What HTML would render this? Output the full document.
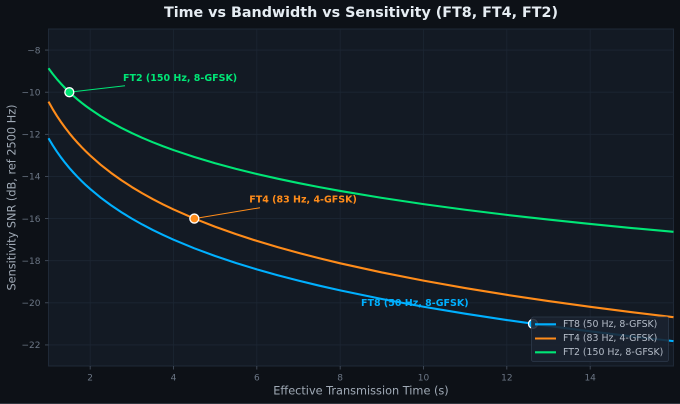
<!DOCTYPE html>
<html>
<head>
<meta charset="utf-8">
<style>
html,body{margin:0;padding:0;background:#0d1117;}
svg{display:block;}
text{font-family:"DejaVu Sans","Liberation Sans",sans-serif;}
</style>
</head>
<body>
<svg width="680" height="404" viewBox="0 0 680 404" xmlns="http://www.w3.org/2000/svg">
  <rect x="0" y="0" width="680" height="404" fill="#0d1117"/>
  <rect x="0" y="403" width="680" height="1" fill="#30363f"/>
  <!-- title -->
  <text x="361" y="13" text-anchor="middle" dominant-baseline="central" font-size="14.3" font-weight="bold" fill="#e6edf3">Time vs Bandwidth vs Sensitivity (FT8, FT4, FT2)</text>
  <!-- plot area -->
  <rect x="48.5" y="29" width="625" height="337" fill="#131a24" stroke="#1f2937" stroke-width="1"/>
  <!-- grid -->
  <g stroke="#1c2633" stroke-width="0.8">
    <line x1="90.17" y1="29" x2="90.17" y2="366"/>
    <line x1="173.5" y1="29" x2="173.5" y2="366"/>
    <line x1="256.83" y1="29" x2="256.83" y2="366"/>
    <line x1="340.17" y1="29" x2="340.17" y2="366"/>
    <line x1="423.5" y1="29" x2="423.5" y2="366"/>
    <line x1="506.83" y1="29" x2="506.83" y2="366"/>
    <line x1="590.17" y1="29" x2="590.17" y2="366"/>
    <line x1="48.5" y1="50.06" x2="673.5" y2="50.06"/>
    <line x1="48.5" y1="92.19" x2="673.5" y2="92.19"/>
    <line x1="48.5" y1="134.31" x2="673.5" y2="134.31"/>
    <line x1="48.5" y1="176.44" x2="673.5" y2="176.44"/>
    <line x1="48.5" y1="218.56" x2="673.5" y2="218.56"/>
    <line x1="48.5" y1="260.69" x2="673.5" y2="260.69"/>
    <line x1="48.5" y1="302.81" x2="673.5" y2="302.81"/>
    <line x1="48.5" y1="344.94" x2="673.5" y2="344.94"/>
  </g>
  <!-- ticks -->
  <g stroke="#4a5565" stroke-width="0.8">
    <line x1="90.17" y1="366" x2="90.17" y2="369.5"/>
    <line x1="173.5" y1="366" x2="173.5" y2="369.5"/>
    <line x1="256.83" y1="366" x2="256.83" y2="369.5"/>
    <line x1="340.17" y1="366" x2="340.17" y2="369.5"/>
    <line x1="423.5" y1="366" x2="423.5" y2="369.5"/>
    <line x1="506.83" y1="366" x2="506.83" y2="369.5"/>
    <line x1="590.17" y1="366" x2="590.17" y2="369.5"/>
    <line x1="45" y1="50.06" x2="48.5" y2="50.06"/>
    <line x1="45" y1="92.19" x2="48.5" y2="92.19"/>
    <line x1="45" y1="134.31" x2="48.5" y2="134.31"/>
    <line x1="45" y1="176.44" x2="48.5" y2="176.44"/>
    <line x1="45" y1="218.56" x2="48.5" y2="218.56"/>
    <line x1="45" y1="260.69" x2="48.5" y2="260.69"/>
    <line x1="45" y1="302.81" x2="48.5" y2="302.81"/>
    <line x1="45" y1="344.94" x2="48.5" y2="344.94"/>
  </g>
  <g font-size="9" fill="#6b7685" text-anchor="middle">
    <text x="90.17" y="380.5">2</text>
    <text x="173.5" y="380.5">4</text>
    <text x="256.83" y="380.5">6</text>
    <text x="340.17" y="380.5">8</text>
    <text x="423.5" y="380.5">10</text>
    <text x="506.83" y="380.5">12</text>
    <text x="590.17" y="380.5">14</text>
  </g>
  <g font-size="9" fill="#6b7685" text-anchor="end">
    <text x="40.5" y="53.3">−8</text>
    <text x="40.5" y="95.4">−10</text>
    <text x="40.5" y="137.5">−12</text>
    <text x="40.5" y="179.7">−14</text>
    <text x="40.5" y="221.8">−16</text>
    <text x="40.5" y="263.9">−18</text>
    <text x="40.5" y="306">−20</text>
    <text x="40.5" y="348.2">−22</text>
  </g>
  <!-- axis labels -->
  <text x="361" y="391" text-anchor="middle" dominant-baseline="central" font-size="11.3" fill="#a0aab6">Effective Transmission Time (s)</text>
  <text transform="translate(12,197.5) rotate(-90)" x="0" y="0" text-anchor="middle" dominant-baseline="central" font-size="11.3" fill="#a0aab6">Sensitivity SNR (dB, ref 2500 Hz)</text>

  <!-- FT8 annotation text (under line) -->
  <text x="361" y="303.3" dominant-baseline="central" font-size="9.5" font-weight="bold" fill="#00b0ff">FT8 (50 Hz, 8-GFSK)</text>

  <!-- curves -->
  <g fill="none" stroke-width="2.1" stroke-linejoin="round" stroke-linecap="butt">
    <polyline stroke="#00e676" points="48.5,68.27 52.67,73.89 56.83,79.02 61,83.74 65.17,88.12 69.33,92.19 73.5,95.99 77.67,99.57 81.83,102.94 86,106.13 90.17,109.16 100.58,116.11 111,122.33 121.42,127.95 131.83,133.08 142.25,137.81 152.67,142.18 163.08,146.25 173.5,150.06 194.33,157 215.17,163.22 236,168.85 256.83,173.98 277.67,178.7 298.5,183.07 319.33,187.15 340.17,190.95 381.83,197.9 423.5,204.12 465.17,209.74 506.83,214.88 548.5,219.6 590.17,223.97 631.83,228.04 673.5,231.85"/>
    <polyline stroke="#ff8c1a" points="48.5,101.62 52.67,109.03 56.83,115.8 61,122.02 65.17,127.78 69.33,133.15 73.5,138.16 77.67,142.88 81.83,147.32 86,151.53 90.17,155.51 100.58,164.67 111,172.86 121.42,180.27 131.83,187.04 142.25,193.26 152.67,199.02 163.08,204.39 173.5,209.41 194.33,218.57 215.17,226.76 236,234.17 256.83,240.93 277.67,247.15 298.5,252.92 319.33,258.28 340.17,263.3 381.83,272.46 423.5,280.65 465.17,288.06 506.83,294.83 548.5,301.05 590.17,306.81 631.83,312.18 673.5,317.2"/>
    <polyline stroke="#00b0ff" points="48.5,138.23 52.67,145.2 56.83,151.57 61,157.43 65.17,162.85 69.33,167.9 73.5,172.62 77.67,177.06 81.83,181.24 86,185.2 90.17,188.95 100.58,197.57 111,205.28 121.42,212.26 131.83,218.63 142.25,224.48 152.67,229.91 163.08,234.95 173.5,239.68 194.33,248.3 215.17,256.01 236,262.98 256.83,269.35 277.67,275.21 298.5,280.63 319.33,285.68 340.17,290.4 381.83,299.02 423.5,306.73 465.17,313.7 506.83,320.07 548.5,325.93 590.17,331.35 631.83,336.4 673.5,341.12"/>
  </g>

  <!-- annotations -->
  <line x1="125" y1="85.7" x2="73" y2="91.8" stroke="#00e676" stroke-width="1"/>
  <text x="123" y="78.7" dominant-baseline="central" font-size="9.5" font-weight="bold" fill="#00e676">FT2 (150 Hz, 8-GFSK)</text>
  <line x1="260" y1="207.7" x2="198" y2="218" stroke="#ff8c1a" stroke-width="1"/>
  <text x="249.3" y="200" dominant-baseline="central" font-size="9.5" font-weight="bold" fill="#ff8c1a">FT4 (83 Hz, 4-GFSK)</text>

  <!-- markers -->
  <circle cx="69.33" cy="92.19" r="4.5" fill="#00e676" stroke="#ffffff" stroke-width="1.3"/>
  <circle cx="194.33" cy="218.57" r="4.5" fill="#ff8c1a" stroke="#ffffff" stroke-width="1.3"/>
  <circle cx="533" cy="323.87" r="4.5" fill="#00b0ff" stroke="#ffffff" stroke-width="1.3"/>

  <!-- legend -->
  <rect x="531.5" y="317" width="137" height="44.5" rx="2" fill="#1a2230" fill-opacity="0.88" stroke="#2e3a4b" stroke-width="0.8"/>
  <line x1="535" y1="324.3" x2="556" y2="324.3" stroke="#00b0ff" stroke-width="2.1"/>
  <line x1="535" y1="338.5" x2="556" y2="338.5" stroke="#ff8c1a" stroke-width="2.1"/>
  <line x1="535" y1="352.3" x2="556" y2="352.3" stroke="#00e676" stroke-width="2.1"/>
  <g font-size="9.4" fill="#b4bcc8">
    <text x="563" y="324.3" dominant-baseline="central">FT8 (50 Hz, 8-GFSK)</text>
    <text x="563" y="338.5" dominant-baseline="central">FT4 (83 Hz, 4-GFSK)</text>
    <text x="563" y="352.3" dominant-baseline="central">FT2 (150 Hz, 8-GFSK)</text>
  </g>
</svg>
</body>
</html>
